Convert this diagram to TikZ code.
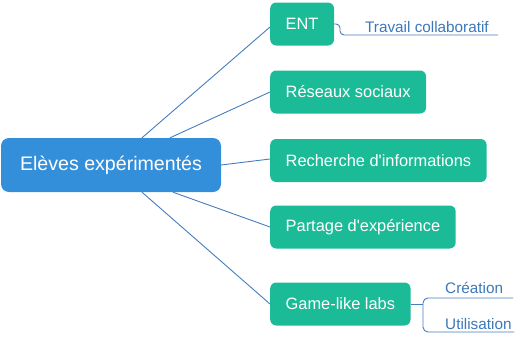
\documentclass[tikz,border=0pt]{standalone}
\usepackage{fontspec}
\newfontfamily\mapfont{Liberation Sans}
\definecolor{mapblue}{RGB}{52,143,219}
\definecolor{mapgreen}{RGB}{28,187,152}
\definecolor{mapline}{RGB}{70,125,190}
\definecolor{maptext}{RGB}{60,120,185}
\tikzset{
  root/.style={fill=mapblue, rounded corners=8pt, text=white, font=\mapfont\fontsize{19.6}{22}\selectfont,
    minimum width=220pt, minimum height=54pt, inner sep=0pt},
  topic/.style={fill=mapgreen, rounded corners=6pt, text=white, font=\mapfont\fontsize{16.4}{18}\selectfont,
    minimum height=43pt, inner xsep=15.5pt, inner ysep=0pt, anchor=west},
  leaf/.style={text=maptext, font=\mapfont\fontsize{15.3}{17}\selectfont, inner sep=0pt, anchor=base west},
  link/.style={draw=mapline, line width=0.9pt},
}
\begin{document}
\begin{tikzpicture}[x=1pt,y=-1pt]
  \useasboundingbox (0,0) rectangle (522,338);
  \node[root] (eleves) at (111,165) {Elèves expérimentés};
  \node[topic] (ent) at (270,24) {ENT};
  \node[topic] (reseaux) at (270,92) {Réseaux sociaux};
  \node[topic] (recherche) at (270,160.5) {Recherche d'informations};
  \node[topic] (partage) at (270,227) {Partage d'expérience};
  \node[topic] (game) at (270,304) {Game-like labs};
  \node[leaf] (travail) at (365,32) {Travail collaboratif};
  \node[leaf] (creation) at (445,293) {Création};
  \node[leaf] (utilisation) at (445,329) {Utilisation};
  \coordinate (travailend) at (498,35);
  \coordinate (creationend) at (513,298);
  \coordinate (utilisationend) at (514,332);
  \begin{scope}[link]
    \draw ([xshift=31pt]eleves.north) to ([yshift=-3pt]ent.west);
    \draw ([xshift=59pt]eleves.north) to (reseaux.west);
    \draw (eleves.east) to ([yshift=1.5pt]recherche.west);
    \draw ([xshift=62pt]eleves.south) to (partage.west);
    \draw ([xshift=31pt]eleves.south) to (game.west);
    \draw[rounded corners=4pt] (ent.east) -- (340,24) -- (340,35) -- (travailend);
    \draw (game.east) -- (423,304) coordinate (fork);
    \draw[rounded corners=5pt] (fork) |- (creationend);
    \draw[rounded corners=5pt] (fork) |- (utilisationend);
  \end{scope}
\end{tikzpicture}
\end{document}
